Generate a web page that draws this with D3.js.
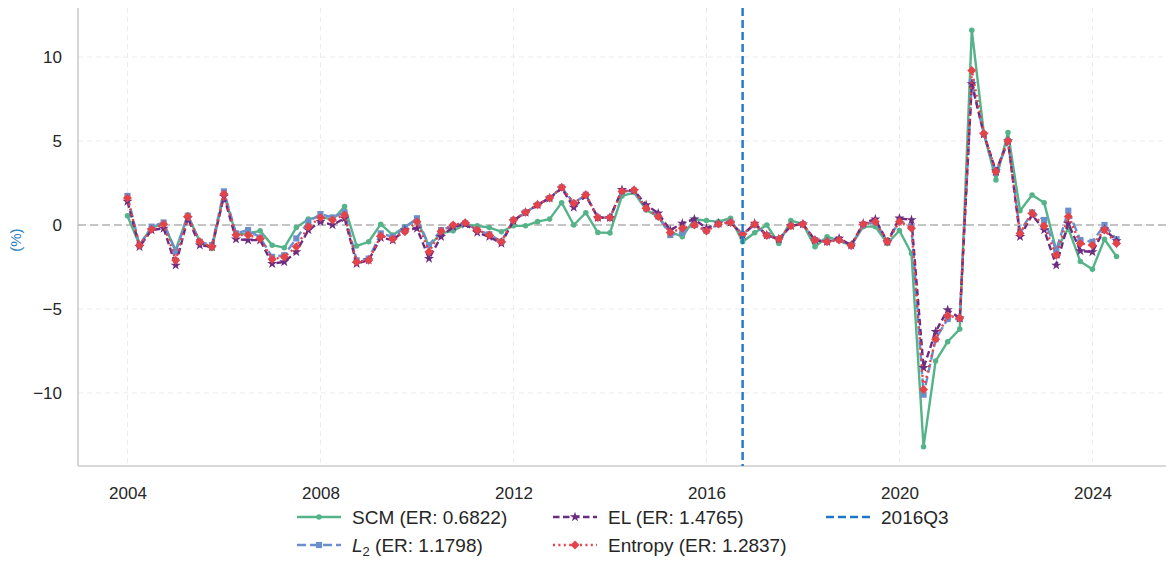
<html>
<head>
<title>synthetic control comparison</title>
<script src="https://d3js.org/d3.v7.min.js"></script>
<style>
body { margin: 0; background: #fff; font-family: 'Liberation Sans', Arial, sans-serif; }
</style>
</head>
<body>
<svg id="chart" width="1176" height="576"></svg>
<script>
// quarterly series, 2004Q1 .. 2024Q3 (83 quarters)
var startYear = 2004;
var scm = [0.55,-1.2,-0.15,0.05,-1.5,0.6,-1.0,-1.4,1.8,-0.55,-0.5,-0.35,-1.2,-1.35,-0.15,0.35,0.5,
  0.3,1.1,-1.25,-1.0,0.05,-0.6,-0.1,0.3,-1.25,-0.5,-0.35,0.05,-0.05,-0.15,-0.4,-0.05,-0.05,0.2,
  0.35,1.33,0.0,0.73,-0.45,-0.47,1.73,1.93,0.9,0.5,-0.4,-0.7,0.34,0.26,0.2,0.4,-1.0,-0.46,0.0,
  -1.1,0.26,0.06,-1.3,-0.7,-0.93,-1.23,-0.1,-0.1,-1.1,-0.33,-1.7,-13.2,-8.1,-6.95,-6.2,11.6,5.45,
  2.68,5.5,0.85,1.79,1.33,-1.5,-0.2,-2.18,-2.64,-0.85,-1.88];
var l2 = [1.73,-1.2,-0.1,0.15,-1.6,0.55,-1.0,-1.2,2.0,-0.5,-0.3,-0.75,-1.9,-1.8,-0.8,0.2,0.65,
  0.45,0.75,-2.1,-2.0,-0.5,-0.7,-0.15,0.4,-1.2,-0.3,-0.05,0.1,-0.3,-0.55,-1.0,0.3,0.75,1.2,
  1.6,2.24,1.3,1.8,0.44,0.44,2.0,2.05,1.0,0.5,-0.6,-0.45,0.0,-0.35,0.05,0.15,-0.55,0.0,-0.6,
  -0.85,-0.05,0.05,-0.9,-1.0,-0.85,-1.2,0.0,0.2,-1.0,0.25,-0.1,-10.1,-6.8,-5.6,-5.6,8.5,5.4,
  3.1,5.0,-0.4,0.75,0.3,-1.5,0.85,-0.9,-1.0,0.0,-0.85];
var el = [1.4,-1.3,-0.3,-0.2,-2.4,0.4,-1.2,-1.3,1.7,-0.85,-0.9,-0.9,-2.3,-2.2,-1.6,-0.3,0.2,
  0.0,0.4,-2.3,-2.1,-0.75,-0.9,-0.3,-0.2,-2.0,-0.7,-0.1,0.05,-0.45,-0.7,-1.1,0.25,0.75,1.2,
  1.6,2.2,1.05,1.75,0.44,0.44,2.1,2.05,1.2,0.7,-0.3,0.1,0.35,-0.2,0.1,0.15,-0.6,0.1,-0.6,
  -0.85,-0.05,0.05,-0.9,-1.0,-0.8,-1.2,0.1,0.35,-1.0,0.4,0.3,-8.5,-6.35,-5.05,-5.55,8.4,5.4,
  3.2,5.0,-0.7,0.6,-0.3,-2.4,0.1,-1.55,-1.6,-0.25,-0.95];
var entropy = [1.6,-1.2,-0.26,0.05,-2.1,0.5,-1.0,-1.3,1.85,-0.6,-0.6,-0.8,-2.04,-1.9,-1.3,-0.1,0.45,
  0.3,0.6,-2.2,-2.1,-0.65,-0.83,-0.4,0.2,-1.6,-0.37,0.0,0.14,-0.3,-0.6,-1.0,0.3,0.75,1.2,
  1.6,2.24,1.3,1.8,0.44,0.44,2.0,2.08,1.0,0.5,-0.45,-0.2,0.0,-0.36,0.05,0.15,-0.55,0.04,-0.63,
  -0.83,-0.04,0.06,-0.9,-1.0,-0.9,-1.23,0.05,0.2,-1.0,0.2,-0.2,-9.8,-6.8,-5.4,-5.55,9.2,5.45,
  3.17,5.0,-0.5,0.7,-0.06,-1.8,0.5,-1.1,-1.2,-0.3,-1.1];
var xTicks = [2004, 2008, 2012, 2016, 2020, 2024];
var yTicks = [-10, -5, 0, 5, 10];
var treatTime = 2016.75;   // 2016Q3 marker

var svg = d3.select("#chart");
var mLeft = 78, mRight = 1166, mTop = 8, mBottom = 466;

var x = d3.scaleLinear().domain([2002.975, 2025.525]).range([mLeft, mRight]);
var y = d3.scaleLinear().domain([-14.35, 12.92]).range([mBottom, mTop]);

// grid
svg.selectAll(".vgrid").data(xTicks).enter().append("line")
  .attr("x1", d => x(d)).attr("x2", d => x(d)).attr("y1", mTop).attr("y2", mBottom)
  .style("stroke", "#ebebeb").style("stroke-width", 1).style("stroke-dasharray", "5,4");
svg.selectAll(".hgrid").data(yTicks).enter().append("line")
  .attr("x1", mLeft).attr("x2", mRight).attr("y1", d => y(d)).attr("y2", d => y(d))
  .style("stroke", "#ebebeb").style("stroke-width", 1).style("stroke-dasharray", "5,4");

// axes
var xAxis = d3.axisBottom(x).tickValues(xTicks).tickFormat(d3.format("d")).tickSize(0).tickPadding(21);
var yAxis = d3.axisLeft(y).tickValues(yTicks).tickFormat(d => d < 0 ? "\u2212" + Math.abs(d) : d).tickSize(0).tickPadding(16);
var gx = svg.append("g").attr("transform", "translate(0," + mBottom + ")").call(xAxis);
var gy = svg.append("g").attr("transform", "translate(" + mLeft + ",0)").call(yAxis);
[gx, gy].forEach(function (g) {
  g.select(".domain").style("stroke", "#cccccc").style("stroke-width", 1.6);
  g.selectAll("text").style("font-family", "'Liberation Sans', Arial, sans-serif")
    .style("font-size", "17px").style("fill", "#262626");
});
gx.select(".domain").attr("d", "M" + mLeft + ",0H" + mRight);
gy.select(".domain").attr("d", "M0," + mTop + "V" + mBottom);

svg.append("text").text("(%)")
  .attr("transform", "translate(21," + y(-0.9) + ") rotate(-90)")
  .attr("text-anchor", "middle")
  .style("font-size", "15px").style("fill", "#2a7fc4");

// zero reference line
svg.append("line")
  .attr("x1", mLeft).attr("x2", mRight).attr("y1", y(0)).attr("y2", y(0))
  .style("stroke", "#b3b3b3").style("stroke-width", 1.6).style("stroke-dasharray", "8,4");

// series
var series = [
  { name: "SCM", values: scm, color: "#55b389", dash: null, symbol: d3.symbolCircle, size: 24, rot: 0 },
  { name: "L2", values: l2, color: "#6b8fcc", dash: "9,4", symbol: d3.symbolSquare, size: 38, rot: 0 },
  { name: "EL", values: el, color: "#6c2c80", dash: "6.5,3.5", symbol: d3.symbolStar, size: 32, rot: 0 },
  { name: "Entropy", values: entropy, color: "#e5434a", dash: "2,3.4", symbol: d3.symbolSquare, size: 40, rot: 45 }
];
var line = d3.line().x((d, i) => x(startYear + i / 4)).y(d => y(d));

series.forEach(function (s) {
  svg.append("path").datum(s.values)
    .attr("d", line)
    .style("fill", "none").style("stroke", s.color).style("stroke-width", 2.4)
    .style("stroke-dasharray", s.dash)
    .style("stroke-linejoin", "round");
  svg.selectAll(".m" + s.name).data(s.values).enter().append("path")
    .attr("d", d3.symbol().type(s.symbol).size(s.size))
    .attr("transform", (d, i) => "translate(" + x(startYear + i / 4) + "," + y(d) + ") rotate(" + s.rot + ")")
    .style("fill", s.color);
});

// treatment line
svg.append("line")
  .attr("x1", x(treatTime)).attr("x2", x(treatTime)).attr("y1", mTop).attr("y2", mBottom)
  .style("stroke", "#1f77c9").style("stroke-width", 2.4).style("stroke-dasharray", "8,4");

// legend
var legendItems = [
  { s: series[0], label: "SCM (ER: 0.6822)", col: 0, row: 0 },
  { s: series[1], label: " (ER: 1.1798)", col: 0, row: 1, l2: true },
  { s: series[2], label: "EL (ER: 1.4765)", col: 1, row: 0 },
  { s: series[3], label: "Entropy (ER: 1.2837)", col: 1, row: 1 },
  { s: { color: "#1f77c9", dash: "8,4", symbol: null }, label: "2016Q3", col: 2, row: 0 }
];
var colX = [297, 553, 826];
var rowY = [517, 545];
legendItems.forEach(function (it) {
  var lx = colX[it.col], ly = rowY[it.row];
  svg.append("line").attr("x1", lx).attr("x2", lx + 44).attr("y1", ly).attr("y2", ly)
    .style("stroke", it.s.color).style("stroke-width", 2.4).style("stroke-dasharray", it.s.dash);
  if (it.s.symbol) {
    svg.append("path").attr("d", d3.symbol().type(it.s.symbol).size(it.s.size))
      .attr("transform", "translate(" + (lx + 22) + "," + ly + ") rotate(" + it.s.rot + ")")
      .style("fill", it.s.color);
  }
  var t = svg.append("text").attr("x", lx + 55).attr("y", ly + 6.5)
    .style("font-size", "19px").style("fill", "#262626");
  if (it.l2) {
    t.append("tspan").text("L").style("font-style", "italic");
    t.append("tspan").text("2").attr("dy", 4).style("font-size", "13px");
    t.append("tspan").text(it.label).attr("dy", -4);
  } else {
    t.text(it.label);
  }
});
</script>
</body>
</html>
